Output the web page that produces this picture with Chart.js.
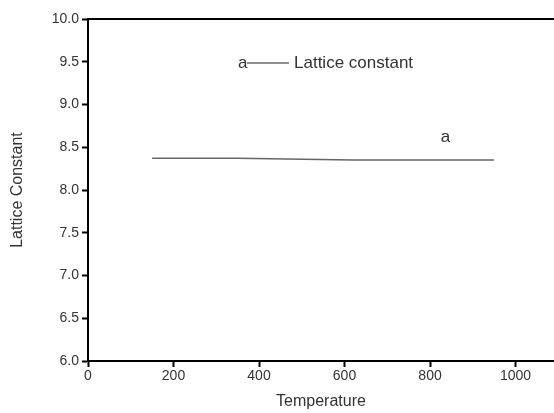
<!DOCTYPE html>
<html>
<head>
<meta charset="utf-8">
<script src="https://cdn.jsdelivr.net/npm/chart.js@4/dist/chart.umd.min.js"></script>
<style>
  html, body { margin: 0; padding: 0; background: #fff; }
  #wrap { width: 554px; height: 413px; }
</style>
</head>
<body>
<div id="wrap"><canvas id="chart" width="554" height="413"></canvas></div>
<script>
// Data
const temperatures = [150, 350, 620, 950];
const latticeValues = [8.37, 8.37, 8.35, 8.35];
const xTicks = [0, 200, 400, 600, 800, 1000];
const yTicks = [6.0, 6.5, 7.0, 7.5, 8.0, 8.5, 9.0, 9.5, 10.0];
const seriesName = 'Lattice constant';
const seriesTag = 'a';

const font = 'Liberation Sans, Arial, sans-serif';
const textColor = '#333';

// Top frame line, inside legend and the "a" tag
const extrasPlugin = {
  id: 'extras',
  afterDraw(chart) {
    const ctx = chart.ctx;
    const area = chart.chartArea;
    const x = chart.scales.x;
    const y = chart.scales.y;
    ctx.save();
    ctx.strokeStyle = '#000';
    ctx.lineWidth = 2;
    ctx.beginPath();
    ctx.moveTo(area.left - 1, area.top);
    ctx.lineTo(area.right, area.top);
    ctx.stroke();

    // legend entry: a—— Lattice constant
    ctx.font = '17px ' + font;
    ctx.fillStyle = textColor;
    ctx.textBaseline = 'middle';
    ctx.textAlign = 'left';
    const ly = 63;
    ctx.fillText(seriesTag, 238, ly);
    ctx.strokeStyle = '#222';
    ctx.lineWidth = 1.2;
    ctx.beginPath();
    ctx.moveTo(247, ly);
    ctx.lineTo(289, ly);
    ctx.stroke();
    ctx.fillText(seriesName, 294, ly);

    // tag near the curve
    ctx.textAlign = 'center';
    ctx.fillText(seriesTag, x.getPixelForValue(836), y.getPixelForValue(8.62));
    ctx.restore();
  }
};

new Chart(document.getElementById('chart'), {
  type: 'line',
  data: {
    datasets: [{
      label: seriesName,
      data: temperatures.map((t, i) => ({ x: t, y: latticeValues[i] })),
      borderColor: '#666',
      borderWidth: 1.5,
      pointRadius: 0,
      fill: false,
      tension: 0
    }]
  },
  options: {
    responsive: false,
    animation: false,
    layout: { padding: { top: 19, left: 8, right: 0, bottom: 0 } },
    plugins: {
      legend: { display: false },
      tooltip: { enabled: false }
    },
    scales: {
      x: {
        type: 'linear',
        min: 0,
        max: 1090,
        afterBuildTicks(scale) {
          scale.ticks = xTicks.map(v => ({ value: v }));
        },
        afterFit(scale) { scale.height = 52; },
        grid: { drawOnChartArea: false, tickLength: 6, tickWidth: 2, tickColor: '#000' },
        border: { color: '#000', width: 2 },
        ticks: {
          color: textColor,
          font: { family: font, size: 14 },
          padding: 1,
          maxRotation: 0,
          callback: v => String(v)
        },
        title: {
          display: true,
          text: 'Temperature',
          color: textColor,
          font: { family: font, size: 16 },
          padding: { top: 0, bottom: 2 }
        }
      },
      y: {
        min: 6,
        max: 10,
        afterBuildTicks(scale) {
          scale.ticks = yTicks.map(v => ({ value: v }));
        },
        afterFit(scale) { scale.width = 80; },
        grid: { drawOnChartArea: false, tickLength: 6, tickWidth: 2, tickColor: '#000' },
        border: { color: '#000', width: 2 },
        ticks: {
          color: textColor,
          font: { family: font, size: 14 },
          padding: 3,
          callback: v => Number(v).toFixed(1)
        },
        title: {
          display: true,
          text: 'Lattice Constant',
          color: textColor,
          font: { family: font, size: 16 },
          padding: { top: 0, bottom: 18 }
        }
      }
    }
  },
  plugins: [extrasPlugin]
});
</script>
</body>
</html>
